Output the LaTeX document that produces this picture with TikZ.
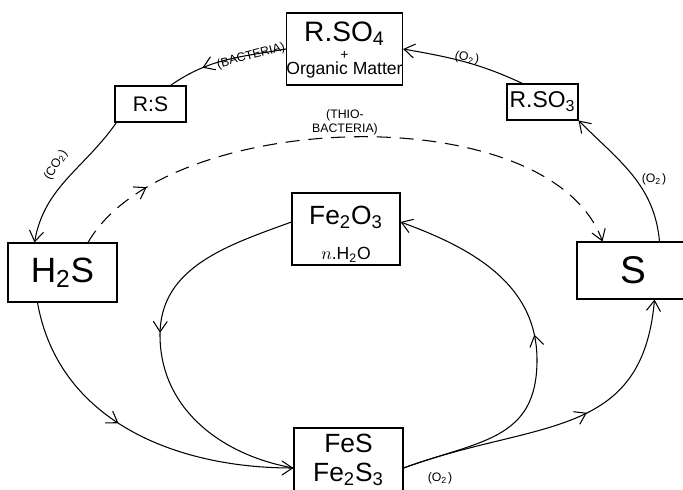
\documentclass[tikz,border=0pt]{standalone}
\usepackage{fontspec}
\setmainfont{Liberation Sans}
\usetikzlibrary{positioning, arrows.meta, calc, decorations.markings}
\newcommand{\chemsub}[1]{\textsubscript{#1}}
\tikzset{
  % Compound box
  block/.style={
    rectangle, draw, line width=0.6pt,
    inner sep=0pt, align=center, text=black
  },
  % Reaction arrow
  arr/.style={-{Straight Barb[length=6pt,width=8pt]}, line width=0.6pt},
  % Plain reaction line
  link/.style={line width=0.6pt},
  % Dashed reaction arrow
  dasharr/.style={arr, dash pattern=on 8pt off 5pt},
  % Tip part way along a line
  midarr/.style={postaction={decorate, decoration={markings,
      mark=at position #1 with {\arrow{Straight Barb[length=6pt,width=8pt]}}}}},
  % Small agent label
  lbl/.style={font=\fontsize{7}{8}\selectfont, inner sep=1pt},
}

\begin{document}
\begin{tikzpicture}[x=0.02cm, y=0.02cm]
  \clip (0,0) rectangle (683,490);
  % compounds
  \node[block, minimum width=2.14cm, minimum height=1.44cm,
        text height=29.4pt, text depth=0pt] (rso4) at (344.5,441)
    {\fontsize{16}{15}\selectfont R.SO\chemsub{4}\\[-2pt]
     \fontsize{8}{8}\selectfont +\\[-3pt] Organic Matter};
  \node[block, minimum width=1.42cm, minimum height=0.72cm,
        font=\fontsize{12}{14}\selectfont] (rs) at (150.5,386) {R:S};
  \node[block, minimum width=1.42cm, minimum height=0.72cm,
        font=\fontsize{13}{15}\selectfont] (rso3) at (542.5,388) {R.SO\chemsub{3}};
  \node[block, minimum width=2.18cm, minimum height=1.18cm,
        font=\fontsize{20}{22}\selectfont] (h2s) at (62.5,217.5) {H\chemsub{2}S};
  \node[block, minimum width=2.26cm, minimum height=1.14cm,
        font=\fontsize{22}{24}\selectfont] (sulfur) at (633.5,219.5) {S};
  \node[block, minimum width=2.16cm, minimum height=1.44cm,
        text height=35pt, text depth=0pt] (fe2o3) at (346,261)
    {\fontsize{15}{17}\selectfont Fe\chemsub{2}O\chemsub{3}\\[8pt]
     \fontsize{10}{12}\selectfont $n$.H\chemsub{2}O};
  \node[block, minimum width=2.18cm, minimum height=1.28cm,
        font=\fontsize{15}{16}\selectfont] (fes) at (348.5,30) {FeS\\Fe\chemsub{2}S\chemsub{3}};
  \coordinate (lturn) at (160,155);
  \coordinate (rturn) at (537,130);

  % outer cycle
  \draw[link, midarr=0.7] (rso4.west) to[out=190,in=35] ($(rs.north)+(20,0)$);
  \node[lbl, rotate=15] (bact) at (251,434) {(BACTERIA)};
  \draw[arr] ($(rs.south west)+(2,0)$) to[out=235,in=80] ($(h2s.north west)+(27,0)$);
  \node[lbl, rotate=58] (co2) at (56,325) {(CO\chemsub{2}\kern0.5pt)};
  \draw[arr] ($(rso3.north west)+(16,0)$) to[out=155,in=-10] (rso4.east);
  \node[lbl, rotate=-10] (o2top) at (467,432) {(O\chemsub{2}\kern0.5pt)};
  \draw[arr] ($(sulfur.north west)+(83,0)$) to[out=95,in=-45] (rso3.south east);
  \node[lbl] (o2right) at (654,311) {(O\chemsub{2}\kern0.5pt)};
  \draw[dasharr, midarr=0.14] ($(h2s.north)+(25.5,0)$) to[out=60,in=110,looseness=0.77]
    ($(sulfur.north west)+(26,0)$);
  \node[lbl, align=center] (thio) at (345,368) {(THIO-\\BACTERIA)};

  % iron cycle
  \draw[arr, midarr=0.45] ($(h2s.south west)+(30,0)$) to[out=-80,in=180]
    ($(fes.west)+(0,-8)$);
  \draw[link, midarr=0.47] ($(fe2o3.west)+(0,7)$) to[out=200,in=90] (lturn)
    to[out=-90,in=170] ($(fes.west)+(0,-8)$);
  \draw[arr, midarr=0.54] ($(fes.east)+(0,-8)$) to[out=20,in=-90,looseness=1.2] (rturn)
    to[out=90,in=-20] ($(fe2o3.east)+(0,7)$);
  \draw[arr, midarr=0.58] ($(fes.east)+(0,-8)$) to[out=20,in=-95,looseness=1.2]
    ($(sulfur.south west)+(78,0)$);
  \node[lbl] (o2bottom) at (440,12) {(O\chemsub{2}\kern0.5pt)};
\end{tikzpicture}
\end{document}
